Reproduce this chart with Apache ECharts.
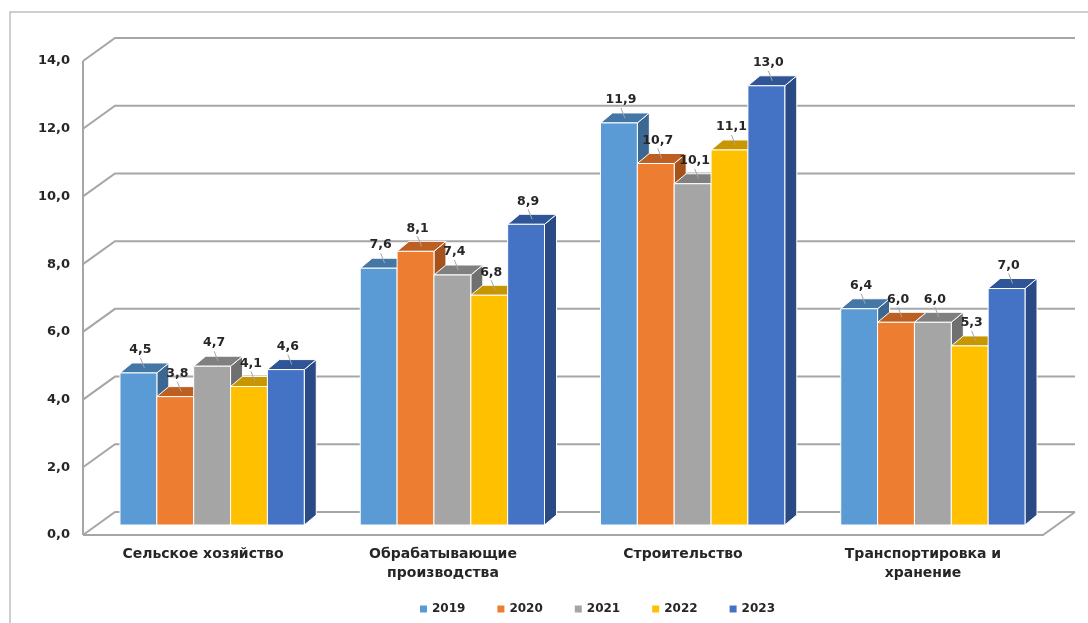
<!DOCTYPE html>
<html>
<head>
<meta charset="utf-8">
<script src="https://cdn.jsdelivr.net/npm/echarts@6/dist/echarts.min.js"></script>
<style>
  html, body { margin: 0; padding: 0; background: #fff; }
  #chart { width: 1088px; height: 623px; }
</style>
</head>
<body>
<div id="chart"></div>
<script>
var categories = ["Сельское хозяйство", "Обрабатывающие\nпроизводства", "Строительство", "Транспортировка и\nхранение"];
var years = ["2019", "2020", "2021", "2022", "2023"];
var v2019 = [4.5, 7.6, 11.9, 6.4];
var v2020 = [3.8, 8.1, 10.7, 6.0];
var v2021 = [4.7, 7.4, 10.1, 6.0];
var v2022 = [4.1, 6.8, 11.1, 5.3];
var v2023 = [4.6, 8.9, 13.0, 7.0];
var yTicks = [0, 2, 4, 6, 8, 10, 12, 14];

var seriesValues = [v2019, v2020, v2021, v2022, v2023];
var frontColors = ["#5B9BD5", "#ED7D31", "#A5A5A5", "#FFC000", "#4472C4"];
var topColors = ["#4476A6", "#BE5F22", "#808080", "#C79600", "#2F5597"];
var sideColors = ["#3C6790", "#A5521C", "#707070", "#AD8200", "#2A4A85"];

var FONT = '"DejaVu Sans", "Liberation Sans", Arial, sans-serif';
var TXT = "#262626";
// depth of the walls and of the bars
var WDX = 32, WDY = 23;
var BDX = 12, BDY = 10;
var GAP = 0.233;

function wallItem(params, api) {
  var cs = params.coordSys;
  var v = api.value(1);
  var y = api.coord([0, v])[1];
  var line = { stroke: "#A6A6A6", lineWidth: 2, fill: null };
  var kids = [{
    type: "polyline",
    shape: { points: [[cs.x, y], [cs.x + WDX, y - WDY], [cs.x + cs.width + WDX, y - WDY]] },
    style: line
  }];
  if (v === 0) {
    kids.push({
      type: "polyline",
      shape: { points: [[cs.x, y], [cs.x + cs.width, y], [cs.x + cs.width + WDX, y - WDY]] },
      style: line
    });
  }
  if (v === yTicks[yTicks.length - 1]) {
    var y0 = api.coord([0, 0])[1];
    kids.push({
      type: "line",
      shape: { x1: cs.x, y1: y, x2: cs.x, y2: y0 },
      style: line
    });
  }
  return { type: "group", children: kids };
}

function barRenderer(k) {
  return function (params, api) {
    var ci = api.value(0), v = api.value(1);
    var base = api.coord([ci, 0]);
    var top = api.coord([ci, v]);
    var band = api.size([1, 0])[0];
    var groupW = band * (1 - GAP);
    var w = groupW / years.length;
    var x0 = base[0] - groupW / 2 + k * w;
    var x1 = x0 + w;
    var yt = top[1], yb = base[1];
    var edge = { stroke: "#fff", lineWidth: 1 };
    var label = String(v.toFixed(1)).replace(".", ",");
    return {
      type: "group",
      children: [
        {
          type: "polygon",
          shape: { points: [[x1, yt], [x1 + BDX, yt - BDY], [x1 + BDX, yb - BDY], [x1, yb]] },
          style: Object.assign({ fill: sideColors[k] }, edge)
        },
        {
          type: "polygon",
          shape: { points: [[x0, yt], [x1, yt], [x1 + BDX, yt - BDY], [x0 + BDX, yt - BDY]] },
          style: Object.assign({ fill: topColors[k] }, edge)
        },
        {
          type: "rect",
          shape: { x: x0, y: yt, width: w, height: yb - yt },
          style: Object.assign({ fill: frontColors[k] }, edge)
        },
        {
          type: "line",
          shape: { x1: x0 + w / 2 + 2, y1: yt - 15, x2: x0 + w / 2 + BDX / 2, y2: yt - BDY / 2 },
          style: { stroke: "#A6A6A6", lineWidth: 1 }
        },
        {
          type: "text",
          style: {
            text: label,
            x: x0 + w / 2 + 2,
            y: yt - 23,
            align: "center",
            verticalAlign: "middle",
            textAlign: "center",
            textVerticalAlign: "middle",
            font: "bold 12.5px " + FONT,
            fill: TXT
          }
        }
      ]
    };
  };
}

var series = [{
  type: "custom",
  name: "walls",
  xAxisIndex: 0,
  yAxisIndex: 0,
  silent: true,
  renderItem: wallItem,
  encode: { x: 0, y: 1 },
  data: yTicks.map(function (v) { return [0, v]; })
}];

years.forEach(function (yr, k) {
  series.push({
    type: "custom",
    name: yr,
    xAxisIndex: 1,
    yAxisIndex: 1,
    renderItem: barRenderer(k),
    encode: { x: 0, y: 1 },
    itemStyle: { color: frontColors[k] },
    data: seriesValues[k].map(function (v, i) { return [i, v]; })
  });
});

var chart = echarts.init(document.getElementById("chart"), null, { renderer: "canvas" });
chart.setOption({
  animation: false,
  backgroundColor: "#fff",
  textStyle: { fontFamily: FONT },
  graphic: [{
    type: "polyline",
    shape: { points: [[10, 623], [10, 12], [1088, 12]] },
    style: { stroke: "#BFBFBF", lineWidth: 1.5, fill: null },
    silent: true
  }],
  grid: [
    { left: 83, right: 45, top: 61, bottom: 88 },
    { left: 92, right: 35, top: 52, bottom: 98 }
  ],
  xAxis: [
    {
      type: "category",
      gridIndex: 0,
      data: categories,
      axisLine: { show: false },
      axisTick: { show: false },
      axisLabel: {
        margin: 10,
        fontWeight: "bold",
        fontSize: 14,
        lineHeight: 19,
        color: TXT,
        fontFamily: FONT,
        interval: 0
      }
    },
    {
      type: "category",
      gridIndex: 1,
      data: categories,
      show: false
    }
  ],
  yAxis: [
    {
      type: "value",
      gridIndex: 0,
      min: 0,
      max: 14,
      interval: 2,
      axisLine: { show: false },
      axisTick: { show: false },
      splitLine: { show: false },
      axisLabel: {
        margin: 13,
        fontWeight: "bold",
        fontSize: 13,
        color: TXT,
        fontFamily: FONT,
        formatter: function (v) { return v.toFixed(1).replace(".", ","); }
      }
    },
    {
      type: "value",
      gridIndex: 1,
      min: 0,
      max: 14,
      interval: 2,
      show: false
    }
  ],
  legend: {
    data: years,
    left: 415,
    top: 598,
    icon: "rect",
    itemWidth: 7,
    itemHeight: 7,
    itemGap: 32,
    textStyle: { fontWeight: "bold", fontSize: 12, color: TXT, fontFamily: FONT }
  },
  series: series
});
</script>
</body>
</html>
